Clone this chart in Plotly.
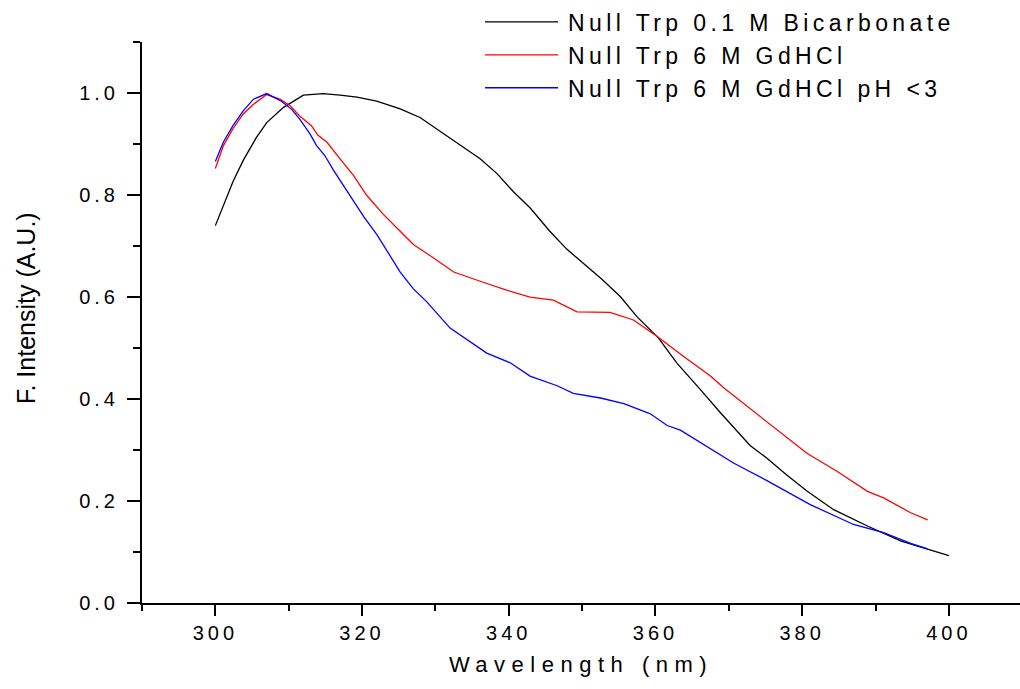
import plotly.graph_objects as go

# ---- data ----
bicarb_x = [300.0, 302.4, 303.8, 305.6, 307.0, 309.3, 312.0, 314.7, 317.0, 319.3, 322.0, 325.2,
            327.9, 331.1, 333.4, 336.1, 338.4, 340.6, 342.9, 345.6, 347.9, 350.2, 352.7, 355.2,
            357.5, 360.4, 362.9, 366.1, 368.8, 372.9, 375.2, 377.9, 380.7, 384.3, 388.9, 393.4,
            397.1, 400.0]
bicarb_y = [0.740, 0.826, 0.868, 0.913, 0.942, 0.972, 0.996, 0.999, 0.996, 0.992, 0.984, 0.969,
            0.952, 0.920, 0.897, 0.871, 0.842, 0.807, 0.775, 0.729, 0.694, 0.665, 0.635, 0.601,
            0.561, 0.520, 0.471, 0.419, 0.374, 0.309, 0.284, 0.251, 0.219, 0.183, 0.151, 0.122,
            0.106, 0.093]

gdhcl_x = [300.0, 301.1, 302.4, 303.8, 305.2, 307.0, 308.8, 310.2, 311.5, 313.1, 314.0, 315.2,
           317.0, 318.8, 320.6, 322.9, 325.2, 327.0, 329.3, 332.5, 336.5, 339.8, 342.9, 346.1,
           349.3, 353.8, 357.0, 360.2, 363.8, 367.5, 369.3, 375.2, 380.7, 384.8, 388.9, 391.1,
           394.8, 397.1]
gdhcl_y = [0.852, 0.897, 0.930, 0.959, 0.978, 0.997, 0.988, 0.975, 0.955, 0.936, 0.917, 0.904,
           0.871, 0.839, 0.800, 0.762, 0.729, 0.703, 0.681, 0.649, 0.629, 0.613, 0.600, 0.594,
           0.571, 0.570, 0.555, 0.523, 0.484, 0.445, 0.422, 0.355, 0.293, 0.258, 0.219, 0.206,
           0.177, 0.163]

acid_x = [300.0, 301.1, 302.4, 303.8, 305.2, 307.0, 309.0, 310.4, 311.5, 312.9, 313.8, 314.9,
          316.1, 317.4, 320.2, 322.0, 323.4, 325.2, 327.0, 328.8, 332.0, 334.3, 337.0, 340.2,
          342.9, 346.6, 348.8, 352.5, 355.7, 359.3, 361.6, 363.4, 366.1, 370.7, 375.2, 381.1,
          387.0, 391.1, 394.8, 397.1]
acid_y = [0.866, 0.904, 0.936, 0.965, 0.988, 0.999, 0.984, 0.968, 0.949, 0.920, 0.897, 0.878,
          0.849, 0.820, 0.758, 0.723, 0.690, 0.649, 0.616, 0.591, 0.539, 0.516, 0.490, 0.471,
          0.445, 0.426, 0.411, 0.402, 0.391, 0.371, 0.348, 0.339, 0.315, 0.274, 0.240, 0.193,
          0.154, 0.138, 0.117, 0.106]

series_names = ["Null Trp 0.1 M Bicarbonate", "Null Trp 6 M GdHCl", "Null Trp 6 M GdHCl pH <3"]
series_colors = ["#000000", "#ff0000", "#0000ff"]
x_title = "Wavelength (nm)"
y_title = "F. Intensity (A.U.)"

FONT = "Arial, 'Liberation Sans', sans-serif"

fig = go.Figure()
for xs, ys, name, color in zip([bicarb_x, gdhcl_x, acid_x], [bicarb_y, gdhcl_y, acid_y],
                               series_names, series_colors):
    fig.add_trace(go.Scatter(x=xs, y=ys, mode="lines", name=name,
                             line=dict(color=color, width=1.3)))

fig.update_layout(
    width=1020, height=689,
    margin=dict(l=142, r=0, t=35, b=86),
    paper_bgcolor="white", plot_bgcolor="white",
    font=dict(family=FONT, color="black"),
    showlegend=True,
    legend=dict(x=0.385, y=1.074, xanchor="left", yanchor="top",
                font=dict(size=23, family=FONT, color="black"),
                bgcolor="rgba(0,0,0,0)", itemwidth=78, tracegroupgap=0),
    xaxis=dict(range=[290, 409.7], showgrid=False, zeroline=False,
               showline=True, linecolor="black", linewidth=2,
               ticks="outside", ticklen=11, tickwidth=2, tickcolor="black",
               tick0=300, dtick=20,
               tickfont=dict(size=20, family=FONT, color="black"),
               minor=dict(ticks="outside", ticklen=6, tickwidth=2, tickcolor="black",
                          tick0=290, dtick=10),
               title=dict(text=x_title, font=dict(size=22, family=FONT, color="black"),
                          standoff=14)),
    yaxis=dict(range=[0, 1.1001], showgrid=False, zeroline=False,
               showline=True, linecolor="black", linewidth=2,
               ticks="outside", ticklen=13, tickwidth=2, tickcolor="black",
               tick0=0, dtick=0.2, tickformat=".1f", ticklabelstandoff=4,
               tickfont=dict(size=20, family=FONT, color="black"),
               minor=dict(ticks="outside", ticklen=7, tickwidth=2, tickcolor="black",
                          tick0=0, dtick=0.1)),
    annotations=[dict(text=y_title, textangle=-90, xref="paper", yref="paper",
                      x=-0.132, y=0.526, xanchor="center", yanchor="middle",
                      showarrow=False, font=dict(size=25, family=FONT, color="black"))],
)

post = """
document.body.style.margin='0';
document.body.style.overflow='hidden';
var gd = document.getElementsByClassName('plotly-graph-div')[0];
function spacing(){
  gd.querySelectorAll('.xtick text, .ytick text').forEach(function(e){e.style.letterSpacing='4px';});
  gd.querySelectorAll('.legendtext').forEach(function(e){e.style.letterSpacing='4.4px';});
  gd.querySelectorAll('.g-xtitle text').forEach(function(e){e.style.letterSpacing='6.5px';});
  gd.querySelectorAll('.legend .scrollbox').forEach(function(e){e.removeAttribute('clip-path');});
  gd.querySelectorAll('.legend').forEach(function(e){e.removeAttribute('clip-path');});
  gd.querySelectorAll('.legendlines path').forEach(function(e){e.setAttribute('d','M5,0h73');});
}
spacing();
"""

fig.write_html("out.html", post_script=post, config={"displayModeBar": False})
